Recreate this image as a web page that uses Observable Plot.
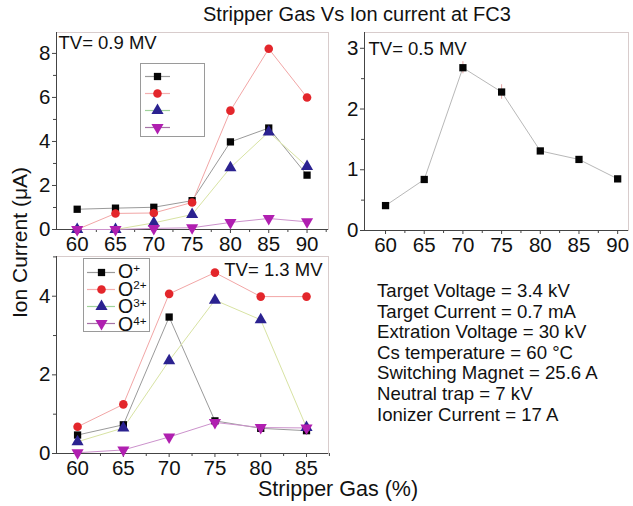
<!DOCTYPE html>
<html><head><meta charset="utf-8">
<script src="https://cdn.jsdelivr.net/npm/d3@7"></script>
<script src="https://cdn.jsdelivr.net/npm/@observablehq/plot@0.6"></script>
<style>
body{margin:0;background:#fff;}
#c{position:relative;width:633px;height:506px;font-family:"Liberation Sans",Arial,sans-serif;color:#111;overflow:hidden;background:#fff}
.abs{position:absolute;white-space:nowrap}
.abs svg{display:block}
sup{font-size:60%;vertical-align:0;position:relative;top:-0.55em;line-height:0}
.leg{position:absolute;border:1px solid #9a9a9a;box-sizing:border-box;background:#fff}
</style></head><body><div id="c"></div>
<script>
// ---------- data ----------
const names = ["O+", "O2+", "O3+", "O4+"];
const legendLabels = ["O<sup>+</sup>", "O<sup>2+</sup>", "O<sup>3+</sup>", "O<sup>4+</sup>"];

// TV = 0.9 MV
const gas09 = [60, 65, 70, 75, 80, 85, 90];
const o1_09 = [0.92, 0.97, 1.01, 1.31, 3.98, 4.61, 2.47];
const o2_09 = [0.0, 0.73, 0.75, 1.23, 5.40, 8.21, 6.00];
const o3_09 = [0.0, 0.0, 0.30, 0.68, 2.81, 4.43, 2.86];
const o4_09 = [0.0, 0.0, 0.05, 0.08, 0.32, 0.50, 0.35];

// TV = 0.5 MV
const gas05 = [60, 65, 70, 75, 80, 85, 90];
const o1_05 = [0.41, 0.84, 2.68, 2.28, 1.31, 1.17, 0.85];
const err05 = [0.01, 0.02, 0.10, 0.12, 0.03, 0.03, 0.02];

// TV = 1.3 MV
const gas13 = [60, 65, 70, 75, 80, 85];
const o1_13 = [0.47, 0.73, 3.47, 0.83, 0.64, 0.58];
const o2_13 = [0.68, 1.25, 4.06, 4.60, 3.99, 3.99];
const o3_13 = [0.30, 0.65, 2.36, 3.90, 3.40, 0.66];
const o4_13 = [0.02, 0.09, 0.42, 0.79, 0.66, 0.65];

const titleText = "Stripper Gas Vs Ion current at FC3";
const yLabel = "Ion Current (μA)";
const xLabel = "Stripper Gas (%)";
const notes = [
  "Target Voltage = 3.4 kV",
  "Target Current = 0.7 mA",
  "Extration Voltage = 30 kV",
  "Cs temperature = 60 °C",
  "Switching Magnet = 25.6 A",
  "Neutral trap = 7 kV",
  "Ionizer Current = 17 A"
];

// ---------- styles ----------
const sqrt3 = Math.sqrt(3);
const invTriangle = {
  draw(context, size) {
    const y = -Math.sqrt(size / (sqrt3 * 3));
    context.moveTo(0, -y * 2);
    context.lineTo(-sqrt3 * y, y);
    context.lineTo(sqrt3 * y, y);
    context.closePath();
  }
};
const dotColors = ["#050505", "#e3262b", "#2b2290", "#b01fb0"];
const lineColors = ["#9a9a9a", "#f2a6a6", "#d8e3a3", "#cc92cc"];
const legLineColors = ["#9a9a9a", "#f4b0b0", "#9fd29a", "#a674a6"];
const symbols = ["square", "circle", "triangle", invTriangle];
const dotR = [4.1, 4.3, 4.5, 4.5];

const root = document.getElementById("c");
function place(el, left, top) {
  const d = document.createElement("div");
  d.className = "abs";
  d.style.left = left + "px";
  d.style.top = top + "px";
  d.appendChild(el);
  root.appendChild(d);
  return d;
}
function html(left, top, s, css) {
  const d = document.createElement("div");
  d.className = "abs";
  d.style.left = left + "px";
  d.style.top = top + "px";
  d.innerHTML = s;
  Object.assign(d.style, css || {});
  root.appendChild(d);
  return d;
}
const range = (a, b, s) => d3.range(a, b + 1e-9, s);

function panel(o) {
  const marks = [
    Plot.frame({stroke: "#d8cccc"}),
    Plot.axisX(o.xMinor, {tickSize: 3, tickFormat: () => "", label: null, stroke: "#444"}),
    Plot.axisY(o.yMinor, {tickSize: 3, tickFormat: () => "", label: null, stroke: "#444"}),
    Plot.axisX(o.xTicks, {tickSize: 4, tickPadding: 3, tickFormat: d => String(d), label: null, stroke: "#444"}),
    Plot.axisY(o.yTicks, {tickSize: 4, tickPadding: 2, tickFormat: d => String(d), label: null, stroke: "#444"}),
    Plot.ruleY([o.yDomain[0]], {stroke: "#444"}),
    Plot.ruleX([o.xDomain[0]], {stroke: "#444"}),
    ...(o.extra || [])
  ];
  o.series.forEach(s => {
    marks.push(Plot.line(s.rows, {x: "gas", y: "v", stroke: o.lineColor || lineColors[s.i], strokeWidth: 1}));
  });
  o.series.forEach(s => {
    marks.push(Plot.dot(s.rows, {x: "gas", y: "v", fill: dotColors[s.i], symbol: symbols[s.i], r: dotR[s.i], stroke: "none"}));
  });
  marks.push(Plot.text([o.tv], {frameAnchor: o.tvAnchor, textAnchor: o.tvAnchor.endsWith("right") ? "end" : "start", lineAnchor: "top", dx: o.tvDx, dy: o.tvDy, fontSize: 18.5, fill: "#111"}));
  const p = Plot.plot({
    width: o.width, height: o.height,
    marginLeft: o.ml, marginRight: o.mr, marginTop: o.mt, marginBottom: o.mb,
    x: {domain: o.xDomain},
    y: {domain: o.yDomain},
    style: {fontFamily: '"Liberation Sans", Arial, sans-serif', fontSize: "20.5px", color: "#111", background: "transparent", overflow: "visible"},
    marks
  });
  place(p, o.left, o.top);
}

function rowsOf(g, v, e) { return g.map((x, k) => ({gas: x, v: v[k], e: e ? e[k] : 0})); }

// Panel 1: TV = 0.9 MV
panel({
  left: 0, top: 0, width: 335, height: 258, ml: 56, mr: 7, mt: 32, mb: 29,
  xDomain: [57.3, 92.8], yDomain: [0, 8.95],
  xTicks: range(60, 90, 5), xMinor: range(62.5, 92.5, 5),
  yTicks: range(0, 8, 2), yMinor: range(1, 7, 2),
  series: [o1_09, o2_09, o3_09, o4_09].map((v, i) => ({i, rows: rowsOf(gas09, v)})),
  tv: "TV= 0.9 MV", tvAnchor: "top-left", tvDx: 2, tvDy: 3
});

// Panel 2: TV = 0.5 MV
const rows05 = rowsOf(gas05, o1_05, err05);
panel({
  left: 335, top: 0, width: 298, height: 258, ml: 29, mr: 5, mt: 32, mb: 28,
  xDomain: [57.28, 91.4], yDomain: [0, 3.26],
  xTicks: range(60, 90, 5), xMinor: range(62.5, 87.5, 5),
  yTicks: range(0, 3, 1), yMinor: range(0.5, 2.5, 1),
  series: [{i: 0, rows: rows05}],
  lineColor: "#b8b8b8",
  extra: [Plot.ruleX(rows05, {x: "gas", y1: d => d.v - d.e, y2: d => d.v + d.e, stroke: "#e3a5a5", strokeWidth: 1})],
  tv: "TV= 0.5 MV", tvAnchor: "top-left", tvDx: 4, tvDy: 9
});

// Panel 3: TV = 1.3 MV
panel({
  left: 0, top: 250, width: 335, height: 230, ml: 56, mr: 7, mt: 6, mb: 27,
  xDomain: [57.7, 87.4], yDomain: [0, 5.01],
  xTicks: range(60, 85, 5), xMinor: range(62.5, 87.5, 5),
  yTicks: range(0, 4, 2), yMinor: range(1, 5, 2),
  series: [o1_13, o2_13, o3_13, o4_13].map((v, i) => ({i, rows: rowsOf(gas13, v)})),
  tv: "TV= 1.3 MV", tvAnchor: "top-right", tvDx: -6, tvDy: 6
});

// Legends
function legend(left, top, w, h, mt, mb, x1, x2, dx) {
  const box = document.createElement("div");
  box.className = "leg";
  box.style.left = left + "px"; box.style.top = top + "px";
  box.style.width = w + "px"; box.style.height = h + "px";
  const p = Plot.plot({
    width: w - 2, height: h - 2, margin: 0, marginTop: mt - 1, marginBottom: mb - 1,
    x: {domain: [0, w - 2], axis: null},
    y: {type: "point", domain: names, padding: 0, axis: null},
    style: {background: "transparent", overflow: "visible"},
    marks: [
      ...names.map((n, i) => Plot.ruleY([n], {x1: x1, x2: x2, stroke: legLineColors[i], strokeWidth: 1.2})),
      ...names.map((n, i) => Plot.dot([n], {x: dx, y: d => d, fill: dotColors[i], symbol: symbols[i], r: dotR[i], stroke: "none"}))
    ]
  });
  p.style.display = "block";
  box.appendChild(p);
  root.appendChild(box);
}
legend(140, 63, 65, 74, 12, 9, 4, 29, 16);
legend(83, 258, 67, 74, 13, 8, 3, 31, 17);
const legRows = [271, 288.7, 306.3, 324];
legendLabels.forEach((s, i) => html(118, legRows[i] - 7, s, {fontSize: "19.5px", lineHeight: "14px"}));

// Titles and annotations
html(203, 4, titleText, {fontSize: "20px", lineHeight: "20px"});
html(258, 479, xLabel, {fontSize: "21.5px", lineHeight: "21px"});
html(0, 0, yLabel, {fontSize: "21px", lineHeight: "20px", transformOrigin: "0 0", transform: "translate(10px, 318px) rotate(-90deg)"});
html(377, 281, notes.join("<br>"), {fontSize: "18.6px", lineHeight: "20.6px"});
</script>
</body></html>
